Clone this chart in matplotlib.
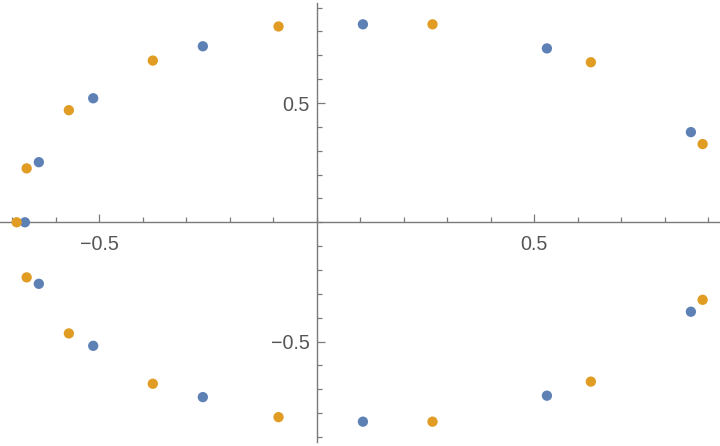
import numpy as np
import matplotlib
matplotlib.use('Agg')
import matplotlib.pyplot as plt
from matplotlib.ticker import MultipleLocator

# points, going round each ring
blue_x = [-0.671, -0.639, -0.514, -0.262, 0.106, 0.529, 0.860,
          0.860, 0.529, 0.106, -0.262, -0.514, -0.639]
blue_y = [0.0, 0.252, 0.520, 0.738, 0.830, 0.729, 0.378,
          -0.375, -0.727, -0.836, -0.733, -0.518, -0.258]

orange_x = [-0.690, -0.667, -0.570, -0.377, -0.088, 0.266, 0.630, 0.887,
            0.887, 0.630, 0.266, -0.088, -0.377, -0.570, -0.667]
orange_y = [0.0, 0.226, 0.470, 0.678, 0.821, 0.830, 0.671, 0.328,
            -0.325, -0.668, -0.836, -0.817, -0.677, -0.466, -0.231]

tick_vals = [-0.5, 0.5]
tick_text = ['\u22120.5', '0.5']

axis_col = '#7a7a7a'
label_col = '#555555'

plt.rcParams['font.family'] = ['Liberation Sans', 'DejaVu Sans']

fig = plt.figure(figsize=(7.2, 4.46), dpi=100)
ax = fig.add_axes([0, 0, 1, 1])

ax.scatter(blue_x, blue_y, s=55, color='#5E81B5', edgecolors='none', zorder=3)
ax.scatter(orange_x, orange_y, s=55, color='#E19C24', edgecolors='none', zorder=3)

ax.set_xlim(-0.7283, 0.9269)
ax.set_ylim(-0.938, 0.932)

# axes through the origin, mathematica style
for s in ['top', 'right']:
    ax.spines[s].set_visible(False)
ax.spines['left'].set_position(('data', 0))
ax.spines['bottom'].set_position(('data', 0))
ax.spines['left'].set_bounds(-0.92, 0.92)
for s in ['left', 'bottom']:
    ax.spines[s].set_color(axis_col)
    ax.spines[s].set_linewidth(1.0)

ax.set_xticks(tick_vals)
ax.set_xticklabels(tick_text)
ax.set_yticks(tick_vals)
ax.set_yticklabels(tick_text)
ax.xaxis.set_minor_locator(MultipleLocator(0.1))
ax.yaxis.set_minor_locator(MultipleLocator(0.1))

ax.tick_params(which='major', direction='in', length=5.8, width=0.9,
               color=axis_col, labelcolor=label_col, labelsize=14.2)
ax.tick_params(axis='x', which='major', pad=9)
ax.tick_params(axis='y', which='major', pad=5.3)
ax.tick_params(which='minor', direction='in', length=3.6, width=0.9,
               color=axis_col)

fig.savefig('out.png', dpi=100)
